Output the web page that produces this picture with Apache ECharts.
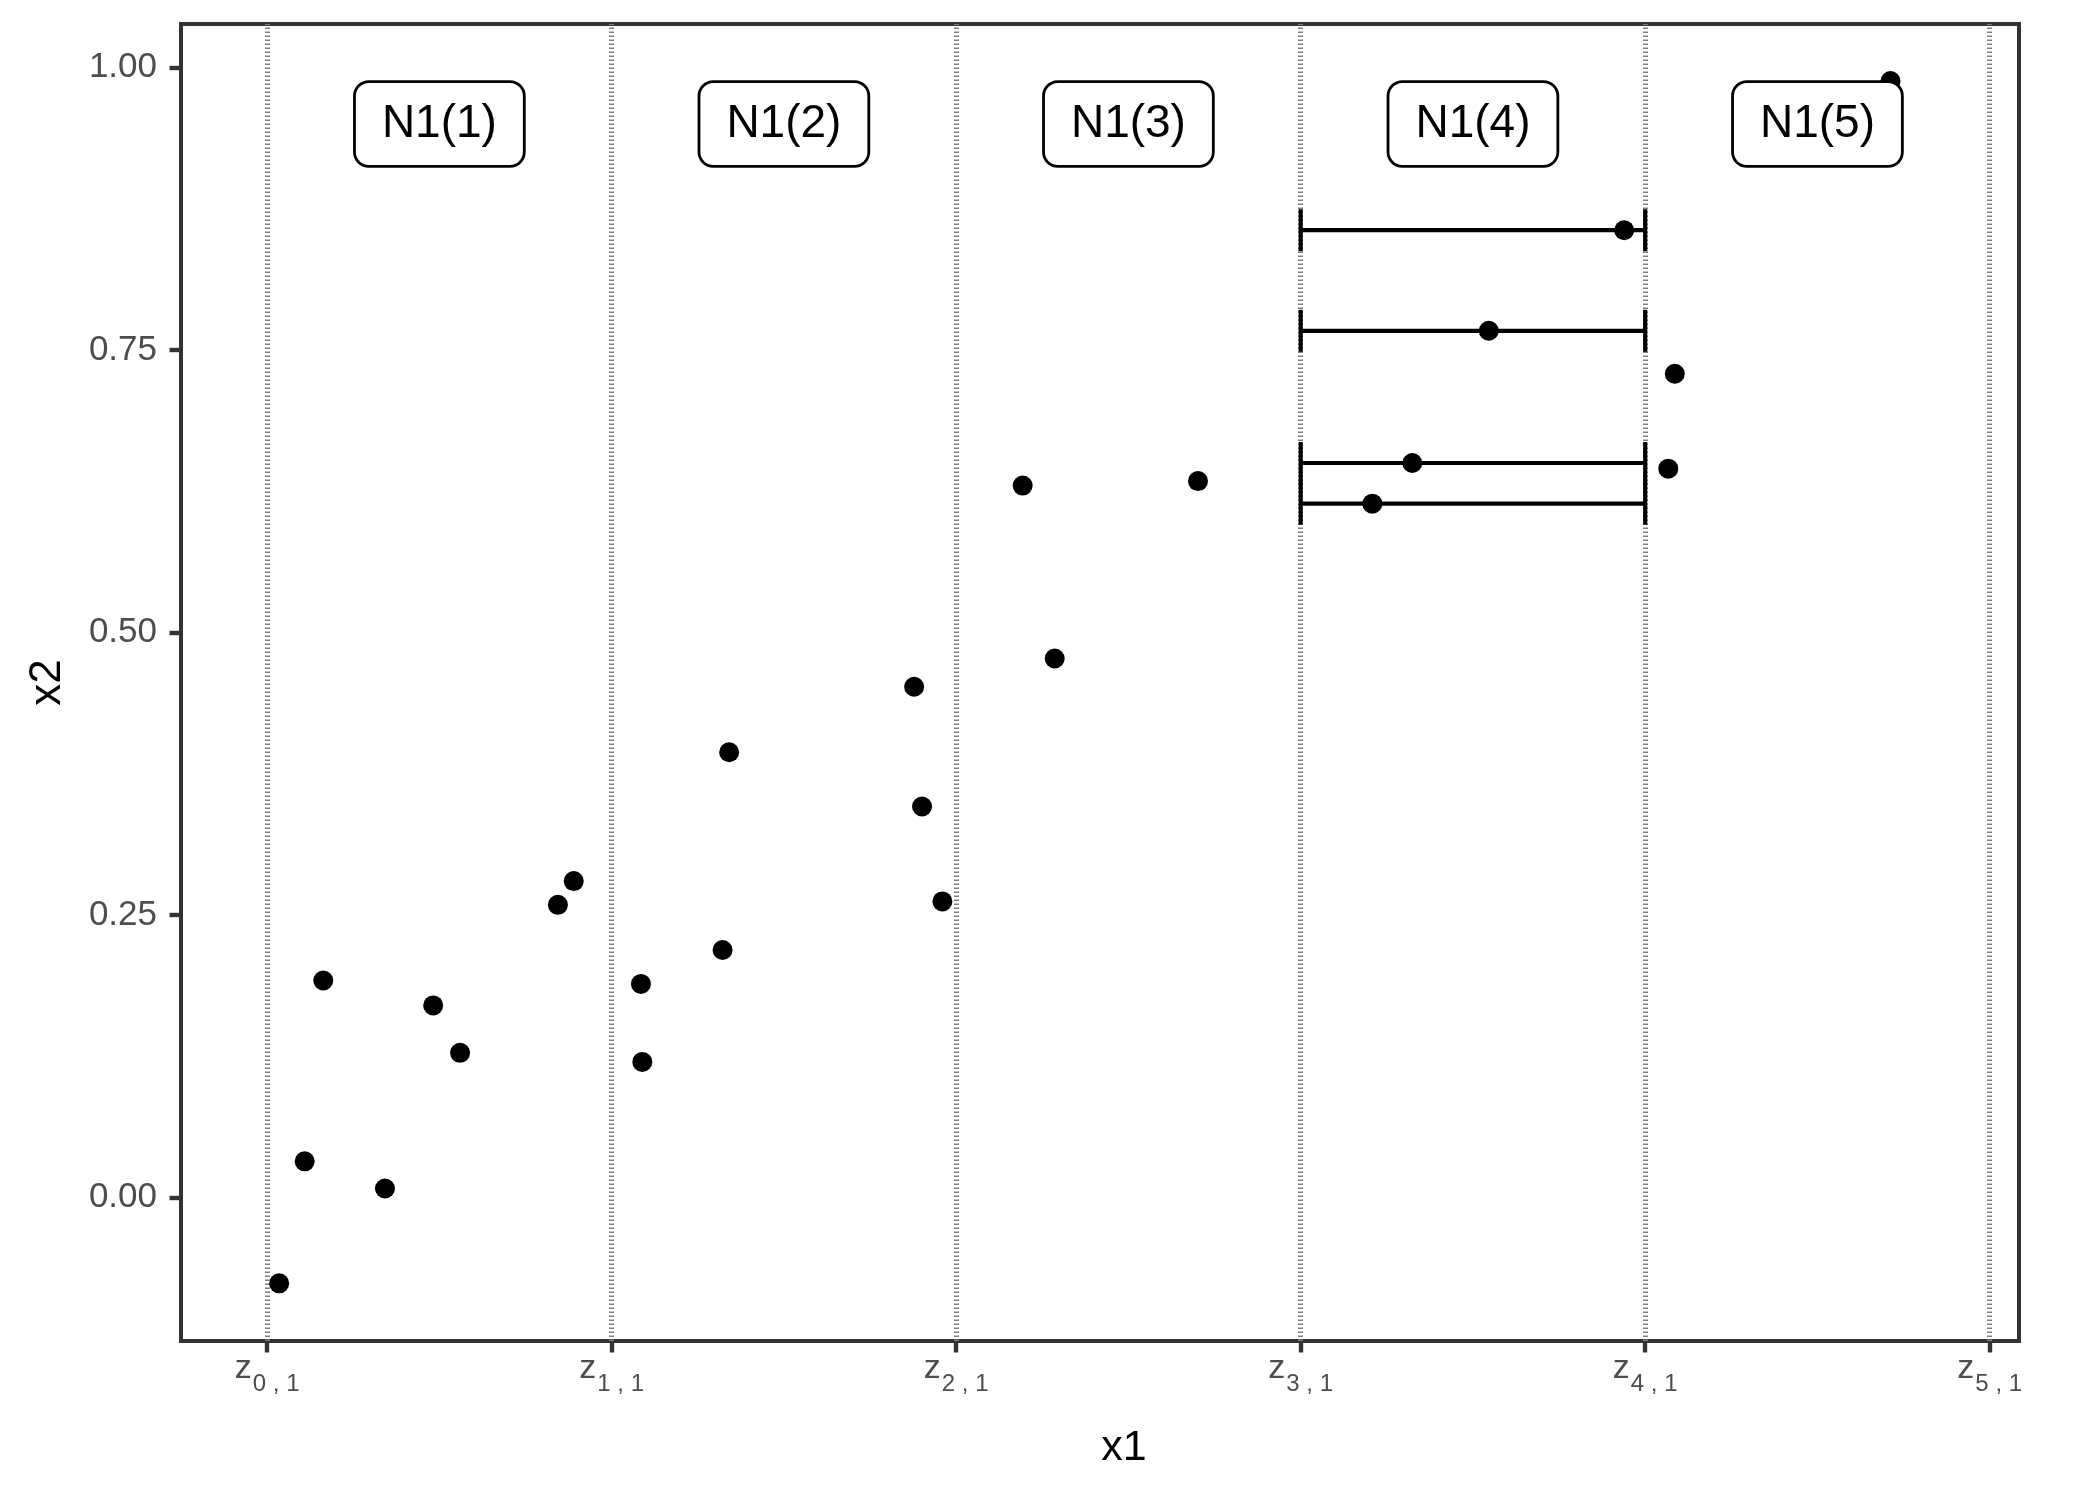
<!DOCTYPE html>
<html><head><meta charset="utf-8">
<script src="https://cdn.jsdelivr.net/npm/echarts@6/dist/echarts.min.js"></script>
<style>html,body{margin:0;padding:0;background:#fff}#c{width:2100px;height:1500px}</style>
</head><body><div id="c"></div>
<script>
// point data
const ptX = [0.035, 0.109, 0.163, 0.342, 0.482, 0.560, 0.844, 0.890,
             1.085, 1.089, 1.322, 1.341, 1.878, 1.901, 1.960,
             2.193, 2.286, 2.702,
             3.208, 3.324, 3.546, 3.939,
             4.067, 4.086, 4.712];
const ptY = [-0.076, 0.032, 0.192, 0.008, 0.170, 0.128, 0.259, 0.280,
             0.189, 0.120, 0.219, 0.394, 0.452, 0.346, 0.262,
             0.630, 0.477, 0.634,
             0.614, 0.650, 0.767, 0.856,
             0.645, 0.729, 0.988];
// interval bars (bin 4)
const errLo = [3, 3, 3, 3];
const errHi = [4, 4, 4, 4];
const errY  = [0.614, 0.650, 0.767, 0.856];
// cut points
const zBreaks = [0, 1, 2, 3, 4, 5];
const zSub = ['0 , 1', '1 , 1', '2 , 1', '3 , 1', '4 , 1', '5 , 1'];
const yTicks = [0, 0.25, 0.5, 0.75, 1.0];
// bin labels
const boxX = [0.5, 1.5, 2.5, 3.5, 4.5];
const boxY = [0.95, 0.95, 0.95, 0.95, 0.95];
const boxText = ['N1(1)', 'N1(2)', 'N1(3)', 'N1(4)', 'N1(5)'];

const FONT = 'Liberation Sans';
const chart = echarts.init(document.getElementById('c'), null, {renderer: 'canvas'});

const points = ptX.map((x, i) => [x, ptY[i]]);
const bars = errY.map((y, i) => [errLo[i], errHi[i], y]);
const boxes = boxX.map((x, i) => [x, boxY[i], boxText[i]]);

chart.setOption({
  animation: false,
  backgroundColor: '#ffffff',
  textStyle: {fontFamily: FONT},
  grid: {left: 181, right: 81, top: 24, bottom: 159, show: true,
         borderColor: '#333333', borderWidth: 4, backgroundColor: 'transparent'},
  xAxis: {
    type: 'value', min: -0.25, max: 5.085,
    name: 'x1', nameLocation: 'middle', nameGap: 86,
    nameTextStyle: {fontSize: 43, color: '#000', fontFamily: FONT, padding: [0, 0, 0, 48]},
    axisLine: {show: true, onZero: false, lineStyle: {color: '#333333', width: 4}},
    splitLine: {show: false},
    axisTick: {show: true, length: 11.5, customValues: zBreaks,
               lineStyle: {color: '#333333', width: 4.4}},
    axisLabel: {
      show: true, customValues: zBreaks, margin: 11,
      formatter: v => '{z|z}{s|' + zSub[zBreaks.indexOf(Math.round(v))] + '}',
      rich: {
        z: {fontSize: 34, lineHeight: 40, verticalAlign: 'top', color: '#4D4D4D', fontFamily: FONT},
        s: {fontSize: 24, lineHeight: 24, verticalAlign: 'top', padding: [20, 0, 0, 1], color: '#4D4D4D', fontFamily: FONT}
      }
    }
  },
  yAxis: {
    type: 'value', min: -0.127, max: 1.0385,
    name: 'x2', nameLocation: 'middle', nameGap: 111, nameRotate: 90,
    nameTextStyle: {fontSize: 44, color: '#000', fontFamily: FONT},
    axisLine: {show: true, onZero: false, lineStyle: {color: '#333333', width: 4}},
    splitLine: {show: false},
    axisTick: {show: true, length: 11.5, customValues: yTicks,
               lineStyle: {color: '#333333', width: 4.4}},
    axisLabel: {show: true, customValues: yTicks, margin: 24, fontSize: 35,
                color: '#4D4D4D', fontFamily: FONT,
                formatter: v => v.toFixed(2)}
  },
  series: [
    {
      type: 'scatter', name: 'lines', data: [], silent: true, z: 1,
      markLine: {
        silent: true, symbol: 'none', label: {show: false},
        lineStyle: {color: '#7f7f7f', width: 5, type: [1.5, 2.5]},
        data: zBreaks.map(v => ({xAxis: v}))
      }
    },
    {
      type: 'custom', name: 'bars', z: 10, silent: true,
      data: bars,
      renderItem: (params, api) => {
        const a = api.coord([api.value(0), api.value(2)]);
        const b = api.coord([api.value(1), api.value(2)]);
        const h = 21;
        const st = {stroke: '#000', lineWidth: 4.2};
        return {type: 'group', children: [
          {type: 'line', z2: 10, shape: {x1: a[0], y1: a[1], x2: b[0], y2: b[1]}, style: st},
          {type: 'line', z2: 10, shape: {x1: a[0], y1: a[1] - h, x2: a[0], y2: a[1] + h}, style: st},
          {type: 'line', z2: 10, shape: {x1: b[0], y1: b[1] - h, x2: b[0], y2: b[1] + h}, style: st}
        ]};
      }
    },
    {
      type: 'scatter', name: 'points', z: 11, silent: true,
      data: points, symbol: 'circle', symbolSize: 20,
      itemStyle: {color: '#000', opacity: 1}
    },
    {
      type: 'custom', name: 'boxes', z: 12, silent: true,
      data: boxes,
      renderItem: (params, api) => {
        const p = api.coord([api.value(0), api.value(1)]);
        return {
          type: 'text', x: p[0], y: p[1],
          style: {
            text: boxText[params.dataIndex],
            fontSize: 46, fontFamily: FONT, fill: '#000',
            align: 'center', verticalAlign: 'middle', lineHeight: 54,
            backgroundColor: '#fff', borderColor: '#000', borderWidth: 2.8,
            borderRadius: 13, padding: [14, 26, 14, 26]
          }
        };
      }
    }
  ]
});
</script></body></html>
